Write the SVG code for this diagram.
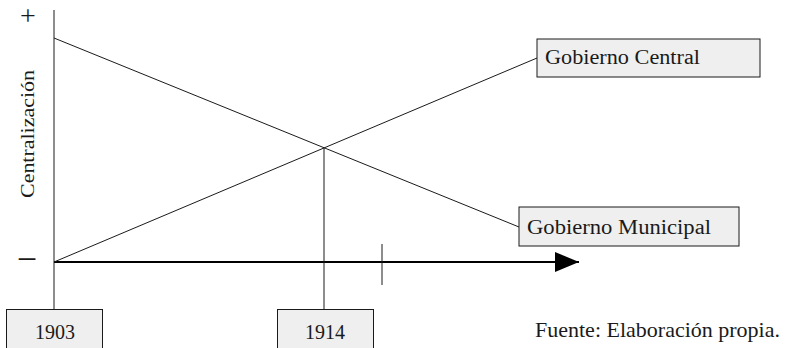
<svg xmlns="http://www.w3.org/2000/svg" width="789" height="348" viewBox="0 0 789 348">
<style>
text{font-family:"Liberation Serif","DejaVu Serif",serif;fill:#1a1a1a}
.box{fill:#efefef;stroke:#1a1a1a;stroke-width:1}
.ln{stroke:#1a1a1a;stroke-width:1;fill:none}
.lbl{font-size:20px}
</style>
<defs>
<marker id="arr" viewBox="0 0 24 20" refX="24" refY="10" markerWidth="24" markerHeight="20" markerUnits="userSpaceOnUse" orient="auto">
<path d="M0,0 L24,10 L0,20 Z" fill="#000"/>
</marker>
</defs>
<g id="axes">
<line class="ln" x1="54" y1="10" x2="54" y2="310"/>
<line x1="54" y1="262" x2="579" y2="262" stroke="#000" stroke-width="2" marker-end="url(#arr)"/>
<line class="ln" x1="382" y1="244" x2="382" y2="285"/>
<text x="28" y="25" font-size="28" text-anchor="middle">+</text>
<text x="27" y="271" font-size="36" text-anchor="middle">−</text>
<text transform="translate(34,134) rotate(-90)" font-size="19" text-anchor="middle" textLength="128" lengthAdjust="spacingAndGlyphs">Centralización</text>
</g>
<g id="connectors">
<line class="ln" x1="54" y1="262" x2="537" y2="58"/>
<line class="ln" x1="54" y1="38" x2="519" y2="227"/>
<line class="ln" x1="324" y1="148" x2="324" y2="309"/>
</g>
<g id="node-central">
<rect class="box" x="537" y="39" width="223" height="38"/>
<text class="lbl" x="545" y="64" textLength="155" lengthAdjust="spacingAndGlyphs">Gobierno Central</text>
</g>
<g id="node-municipal">
<rect class="box" x="519" y="207" width="220" height="39"/>
<text class="lbl" x="527" y="234" textLength="184" lengthAdjust="spacingAndGlyphs">Gobierno Municipal</text>
</g>
<g id="node-1903">
<rect class="box" x="6.5" y="309.5" width="96" height="45"/>
<text class="lbl" x="55" y="339" text-anchor="middle">1903</text>
</g>
<g id="node-1914">
<rect class="box" x="277.5" y="309.5" width="96" height="45"/>
<text class="lbl" x="325" y="339" text-anchor="middle">1914</text>
</g>
<text x="535" y="337" font-size="21" textLength="245" lengthAdjust="spacingAndGlyphs">Fuente: Elaboración propia.</text>
</svg>
